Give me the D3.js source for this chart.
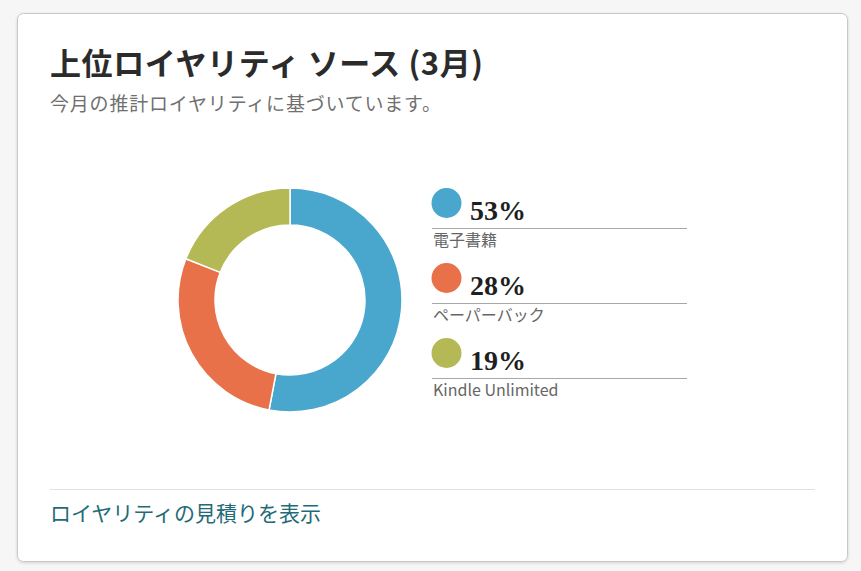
<!DOCTYPE html>
<html>
<head>
<meta charset="utf-8">
<script src="https://cdn.jsdelivr.net/npm/d3@7"></script>
<style>
  html, body { margin: 0; padding: 0; background: #f6f6f6; }
  svg { display: block; }
</style>
</head>
<body>
<svg id="chart" width="861" height="571"></svg>
<script>
// data
var categories = ["電子書籍", "ペーパーバック", "Kindle Unlimited"];
var shares = [53, 28, 19];
var colors = ["#49a7cd", "#e8714a", "#b5b955"];

var title = "上位ロイヤリティ ソース (3月)";
var subtitle = "今月の推計ロイヤリティに基づいています。";
var linkText = "ロイヤリティの見積りを表示";

var jp = "'Noto Sans CJK JP', 'Noto Sans', sans-serif";

var svg = d3.select("#chart");

// card
var defs = svg.append("defs");
var shadow = defs.append("filter").attr("id", "shadow")
  .attr("x", "-5%").attr("y", "-5%").attr("width", "110%").attr("height", "110%");
shadow.append("feDropShadow")
  .attr("dx", 0).attr("dy", 1).attr("stdDeviation", 1.5)
  .attr("flood-color", "#000").attr("flood-opacity", 0.15);

svg.append("rect")
  .attr("x", 17.5).attr("y", 13.5)
  .attr("width", 830).attr("height", 548)
  .attr("rx", 6)
  .attr("fill", "#fff")
  .attr("stroke", "#c8c8c8")
  .attr("filter", "url(#shadow)");

svg.append("text")
  .attr("x", 50).attr("y", 75)
  .attr("font-family", jp).attr("font-weight", 700)
  .attr("font-size", 31).attr("letter-spacing", 0.6)
  .attr("fill", "#2b2b2b")
  .text(title);

svg.append("text")
  .attr("x", 50).attr("y", 111)
  .attr("font-family", jp)
  .attr("font-size", 19).attr("letter-spacing", 0.8)
  .attr("fill", "#707070")
  .text(subtitle);

// donut
var pie = d3.pie().sort(null).value(function(d) { return d; });
var arc = d3.arc().innerRadius(75).outerRadius(112);

var donut = svg.append("g").attr("transform", "translate(290,300)");
donut.selectAll("path")
  .data(pie(shares))
  .enter().append("path")
  .attr("d", arc)
  .attr("fill", function(d, i) { return colors[i]; })
  .attr("stroke", "#fff")
  .attr("stroke-width", 1.5);

// legend
var y = d3.scaleBand().domain(categories).range([188, 413]);

var rows = svg.selectAll("g.row")
  .data(categories)
  .enter().append("g")
  .attr("class", "row")
  .attr("transform", function(d) { return "translate(432," + y(d) + ")"; });

rows.append("circle")
  .attr("cx", 14.5).attr("cy", 15).attr("r", 15)
  .attr("fill", function(d, i) { return colors[i]; });

rows.append("text")
  .attr("x", 38).attr("y", 32)
  .attr("font-family", "'Liberation Serif', 'DejaVu Serif', serif")
  .attr("font-weight", 700).attr("font-size", 28)
  .attr("fill", "#1f1f1f")
  .text(function(d, i) { return shares[i] + "%"; });

rows.append("line")
  .attr("x1", 0).attr("x2", 255)
  .attr("y1", 40.5).attr("y2", 40.5)
  .attr("stroke", "#a8a8a8");

rows.append("text")
  .attr("x", 1).attr("y", 57.5)
  .attr("font-family", jp)
  .attr("font-size", 16).attr("fill", "#666")
  .text(function(d) { return d; });

// footer
svg.append("line")
  .attr("x1", 50).attr("x2", 815)
  .attr("y1", 489.5).attr("y2", 489.5)
  .attr("stroke", "#e0e0e0");

svg.append("text")
  .attr("x", 50).attr("y", 521)
  .attr("font-family", jp)
  .attr("font-size", 21).attr("fill", "#1f6b78")
  .text(linkText);
</script>
</body>
</html>
